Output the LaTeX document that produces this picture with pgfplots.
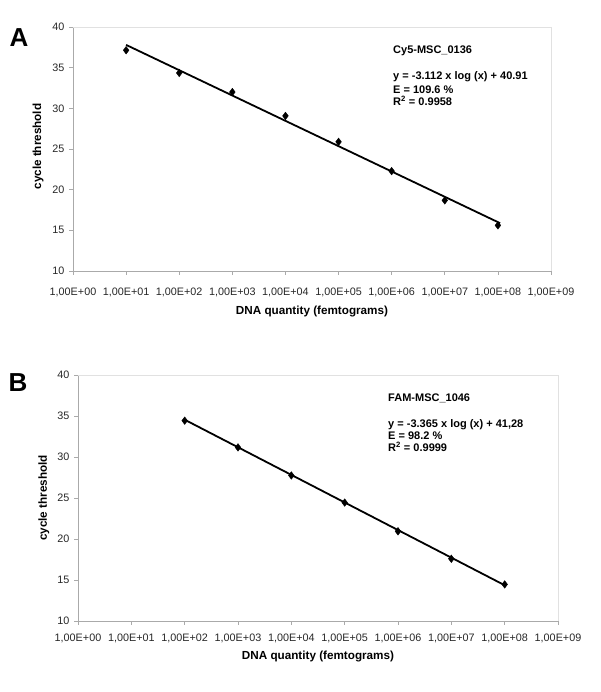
\documentclass[border=0pt]{standalone}
\usepackage{fontspec}
\setmainfont{Liberation Sans}
\usepackage{pgfplots}
\pgfplotsset{compat=1.18}
\definecolor{axgray}{RGB}{170,170,170}
\definecolor{frgray}{RGB}{225,225,225}
\begin{document}
\begin{tikzpicture}[x=1pt,y=1pt]
\path[use as bounding box] (0,0) rectangle (600,692);
% ---------- Panel A ----------
\begin{axis}[
  scale only axis,
  xmode=log, xmin=1, xmax=1e9, ymin=10, ymax=40,
  xtick={1,1e1,1e2,1e3,1e4,1e5,1e6,1e7,1e8,1e9},
  xticklabels={{1,00E+00},{1,00E+01},{1,00E+02},{1,00E+03},{1,00E+04},{1,00E+05},{1,00E+06},{1,00E+07},{1,00E+08},{1,00E+09}},
  xminorticks=false,
  ytick={10,15,20,25,30,35,40},
  /pgf/number format/assume math mode=true,
  tick align=outside, tick style={axgray, line width=0.6pt}, major tick length=4pt,
  axis x line*=bottom, axis y line*=left,
  axis line style={axgray, line width=0.8pt, -},
  ticklabel style={font=\fontsize{10.8}{12}\selectfont, text=black!85},
  yticklabel style={anchor=east, xshift=-1pt},
  label style={font=\bfseries\fontsize{11.7}{13}\selectfont},
  clip=false,
  at={(73pt,421pt)}, anchor=south west, width=478pt, height=244pt,
  xticklabel style={anchor=center, yshift=-17pt},
  xlabel={DNA quantity (femtograms)},
  xlabel style={at={(axis description cs:0.5,-0.168)}, anchor=center},
  ylabel={cycle threshold},
  ylabel style={at={(axis description cs:-0.073,0.51)}, anchor=center},
]
\draw[frgray, line width=0.8pt] (rel axis cs:0,1) -- (rel axis cs:1,1) -- (rel axis cs:1,0);
\addplot[black, line width=1.8pt, no marks] coordinates {(10,37.80) (1.1e8,15.88)};
\addplot[only marks, mark=diamond*, mark size=3.8pt, black] coordinates {
 (1e1,37.14) (1e2,34.35) (1e3,32.0) (1e4,29.07) (1e5,25.88) (1e6,22.28) (1e7,18.68) (1e8,15.61)};
\end{axis}
\node[font=\bfseries\fontsize{26}{28}\selectfont] at (19,654) {A};
\begin{scope}[every node/.style={anchor=base west, inner sep=0pt, font=\bfseries\fontsize{11}{13}\selectfont}]
\node at (393,638.4) {Cy5-MSC\_0136};
\node at (393,612.4) {y = -3.112 x log (x) + 40.91};
\node at (393,598.4) {E = 109.6 \%};
\node at (393,586.4) {R\textsuperscript{2} = 0.9958};
\end{scope}
% ---------- Panel B ----------
\begin{axis}[
  scale only axis,
  xmode=log, xmin=1, xmax=1e9, ymin=10, ymax=40,
  xtick={1,1e1,1e2,1e3,1e4,1e5,1e6,1e7,1e8,1e9},
  xticklabels={{1,00E+00},{1,00E+01},{1,00E+02},{1,00E+03},{1,00E+04},{1,00E+05},{1,00E+06},{1,00E+07},{1,00E+08},{1,00E+09}},
  xminorticks=false,
  ytick={10,15,20,25,30,35,40},
  /pgf/number format/assume math mode=true,
  tick align=outside, tick style={axgray, line width=0.6pt}, major tick length=4pt,
  axis x line*=bottom, axis y line*=left,
  axis line style={axgray, line width=0.8pt, -},
  ticklabel style={font=\fontsize{10.8}{12}\selectfont, text=black!85},
  yticklabel style={anchor=east, xshift=-1pt},
  label style={font=\bfseries\fontsize{11.7}{13}\selectfont},
  clip=false,
  at={(78pt,71pt)}, anchor=south west, width=480pt, height=246pt,
  xticklabel style={anchor=center, yshift=-13pt},
  xlabel={DNA quantity (femtograms)},
  xlabel style={at={(axis description cs:0.5,-0.146)}, anchor=center},
  ylabel={cycle threshold},
  ylabel style={at={(axis description cs:-0.071,0.5)}, anchor=center},
]
\draw[frgray, line width=0.8pt] (rel axis cs:0,1) -- (rel axis cs:1,1) -- (rel axis cs:1,0);
\addplot[black, line width=1.8pt, no marks] coordinates {(100,34.55) (1e8,14.36)};
\addplot[only marks, mark=diamond*, mark size=3.8pt, black] coordinates {
 (1e2,34.43) (1e3,31.17) (1e4,27.75) (1e5,24.44) (1e6,20.94) (1e7,17.59) (1e8,14.46)};
\end{axis}
\node[font=\bfseries\fontsize{26}{28}\selectfont] at (18,309) {B};
\begin{scope}[every node/.style={anchor=base west, inner sep=0pt, font=\bfseries\fontsize{11}{13}\selectfont}]
\node at (388,290.4) {FAM-MSC\_1046};
\node at (388,264.4) {y = -3.365 x log (x) + 41,28};
\node at (388,252.4) {E = 98.2 \%};
\node at (388,240.4) {R\textsuperscript{2} = 0.9999};
\end{scope}
\end{tikzpicture}
\end{document}
